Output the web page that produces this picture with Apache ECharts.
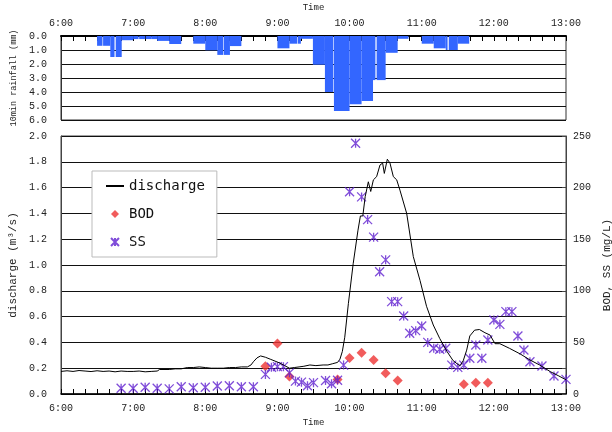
<!DOCTYPE html>
<html>
<head>
<meta charset="utf-8">
<script src="https://cdn.jsdelivr.net/npm/echarts@6/dist/echarts.min.js"></script>
<style>
html,body{margin:0;padding:0;background:#fff;}
#chart{width:612px;height:432px;}
</style>
</head>
<body>
<div id="chart"></div>
<script>
// time is given in minutes after 6:00
const hourLabels = ['6:00','7:00','8:00','9:00','10:00','11:00','12:00','13:00'];

// 10-min rainfall bars: start, end (minutes after 6:00) and depth (mm)
const rainStartMin = [30,35,41,45.5,50.5,60,65,70.5,75.5,80,90,110,120,130,135.5,140.5,180,190,197,199.5,209.5,219.5,227,240,250,259.5,262.5,270,280,300,310,320,322.5,330];
const rainEndMin   = [34.5,41,44.5,50.5,60,64.5,70,75.5,80,90,100,120,130,135,140.5,150,190,196.5,199.5,209.5,219.5,226.5,240,250,259.5,261.5,270,280,289,310,320,321.5,330,339.5];
const rainMm       = [0.7,0.7,1.5,1.5,0.3,0.22,0.22,0.22,0.22,0.35,0.57,0.55,1.02,1.35,1.35,0.72,0.88,0.55,0.55,0.2,2.05,4.0,5.35,4.87,4.65,3.15,3.15,1.2,0.2,0.55,0.88,1.0,1.0,0.55];

// discharge (m3/s)
const dischargeMin = [0,5,10,15,20,25,30,35,40,45,50,55,60,65,70,75,80,82,90,95,100,105,110,115,120,125,130,135,140,145,150,155,158,160,163,166,170,174,178,182,186,190,194,198,202,207,212,218,222,226,230,232,234,236,239,243,247,249,251,253,255.6,257.6,259.8,262.5,264,265.3,267.5,268.9,271.4,273.6,276.4,279.2,281.9,287.5,293,298.6,304,309.6,315,321,326,330,332,334.6,337.4,340,344,348,352.6,356.8,361,365,373,382,390,398,407,414,420];
const dischargeVal = [0.175,0.18,0.175,0.182,0.178,0.174,0.18,0.175,0.178,0.172,0.178,0.175,0.175,0.178,0.172,0.175,0.178,0.19,0.19,0.195,0.195,0.205,0.205,0.21,0.205,0.2,0.2,0.2,0.205,0.205,0.21,0.21,0.225,0.25,0.28,0.295,0.285,0.27,0.255,0.24,0.22,0.2,0.205,0.21,0.215,0.225,0.22,0.225,0.225,0.235,0.245,0.27,0.33,0.44,0.7,1.01,1.27,1.38,1.38,1.53,1.645,1.57,1.66,1.685,1.67,1.775,1.79,1.71,1.82,1.79,1.685,1.66,1.58,1.4,1.065,0.88,0.68,0.535,0.43,0.33,0.26,0.23,0.22,0.26,0.34,0.45,0.495,0.5,0.475,0.457,0.39,0.39,0.354,0.31,0.264,0.225,0.173,0.14,0.11];

// BOD (mg/L)
const bodMin = [170,180,190,230,240,250,260,270,280,335,345,355];
const bodVal = [27,49,17,14,35,40,33,20,13,9.5,11,11];

// SS (mg/L)
const ssMin = [50,60,70,80,90,100,110,120,130,140,150,160,170,175,180,185,190,195,200,205,210,220,225,230,235,240,245,250,255,260,265,270,275,280,285,290,295,300,305,310,315,320,325,330,335,340,345,350,355,360,365,370,375,380,385,390,400,410,420];
const ssVal = [5.5,5.5,6.5,5.5,5,7,6,6.5,7.8,8,7,7,19,26,26.5,26.5,20.5,12.5,11.5,8,11,13,10,13.3,28,196,243,191,169,152,118.5,130,89.5,89.5,75.6,58.8,61.4,65.9,50,44.3,43.3,44.3,28,25.8,28,34.6,47.5,34.6,52.3,71.7,67.5,79.8,79.8,56.2,42.6,31.3,27.1,17.4,14.2];

const numFont = 'Liberation Mono';
const txtColor = '#222';
const diamondPath = 'path://M5,0L10,5L5,10L0,5Z';
const asteriskPath = 'path://M0,0L10,10M10,0L0,10M5,0L5,10';

function timeLabel(v){ return v % 60 === 0 ? hourLabels[v/60] : ''; }

const chart = echarts.init(document.getElementById('chart'), null, {renderer:'canvas'});
chart.setOption({
  animation: false,
  backgroundColor: '#fff',
  grid: [
    {left: 61, right: 46, top: 36, height: 84, show: true, borderColor: '#333', borderWidth: 1, outerBoundsMode: 'none', containLabel: false},
    {left: 61, right: 46, top: 136, bottom: 38, show: true, borderColor: '#444', borderWidth: 1, outerBoundsMode: 'none', containLabel: false}
  ],
  legend: {
    data: [
      {name: 'discharge', itemStyle: {color: 'rgba(0,0,0,0)', borderColor: 'rgba(0,0,0,0)', borderWidth: 0}},
      {name: 'BOD', icon: diamondPath},
      {name: 'SS', icon: asteriskPath}
    ],
    orient: 'vertical',
    left: 92, top: 171,
    padding: [7, 12, 7, 13],
    itemGap: 12,
    itemWidth: 18, itemHeight: 8,
    symbolKeepAspect: true,
    backgroundColor: '#fff',
    borderColor: '#bbb', borderWidth: 1,
    textStyle: {fontFamily: 'DejaVu Sans Mono', fontSize: 14, color: '#111', lineHeight: 16}
  },
  xAxis: [
    {
      type: 'value', gridIndex: 0, position: 'top', min: 0, max: 420, interval: 10,
      name: 'Time', nameLocation: 'middle', nameGap: 24,
      nameTextStyle: {fontFamily: numFont, fontSize: 9, color: txtColor},
      axisLine: {show: true, lineStyle: {color: '#000', width: 2}},
      axisTick: {show: true, inside: true, length: 5, lineStyle: {color: '#000'}},
      axisLabel: {formatter: timeLabel, fontFamily: numFont, fontSize: 10, color: txtColor, margin: 8, showMinLabel: true, showMaxLabel: true},
      splitLine: {show: false}
    },
    {
      type: 'value', gridIndex: 1, position: 'bottom', min: 0, max: 420, interval: 10,
      name: 'Time', nameLocation: 'middle', nameGap: 24,
      nameTextStyle: {fontFamily: numFont, fontSize: 9, color: txtColor},
      axisLine: {show: true, lineStyle: {color: '#000', width: 1.5}},
      axisTick: {show: true, inside: true, length: 5, lineStyle: {color: '#000'}},
      axisLabel: {formatter: timeLabel, fontFamily: numFont, fontSize: 10, color: txtColor, margin: 9, showMinLabel: true, showMaxLabel: true},
      splitLine: {show: false}
    }
  ],
  yAxis: [
    {
      type: 'value', gridIndex: 0, inverse: true, min: 0, max: 6, interval: 1,
      name: '10min rainfall (mm)', nameLocation: 'middle', nameGap: 43, nameRotate: 90,
      nameTextStyle: {fontFamily: numFont, fontSize: 8.5, color: txtColor},
      axisLine: {show: true, lineStyle: {color: '#333'}},
      axisTick: {show: false},
      axisLabel: {formatter: v => v.toFixed(1), fontFamily: numFont, fontSize: 10, color: txtColor, margin: 14},
      splitLine: {show: true, lineStyle: {color: '#111', width: 1}}
    },
    {
      type: 'value', gridIndex: 1, min: 0, max: 2, interval: 0.2,
      name: 'discharge (m³/s)', nameLocation: 'middle', nameGap: 36, nameRotate: 90,
      nameTextStyle: {fontFamily: numFont, fontSize: 11, color: txtColor},
      axisLine: {show: true, lineStyle: {color: '#444'}},
      axisTick: {show: false},
      axisLabel: {formatter: v => v.toFixed(1), fontFamily: numFont, fontSize: 10, color: txtColor, margin: 14},
      splitLine: {show: true, lineStyle: {color: '#111', width: 1}}
    },
    {
      type: 'value', gridIndex: 1, position: 'right', min: 0, max: 250, interval: 25,
      name: 'BOD, SS (mg/L)', nameLocation: 'middle', nameGap: 26, nameRotate: 90,
      nameTextStyle: {fontFamily: numFont, fontSize: 11, color: txtColor},
      axisLine: {show: true, lineStyle: {color: '#444'}},
      axisTick: {show: true, inside: true, length: 4, lineStyle: {color: '#444'}},
      axisLabel: {formatter: v => (v % 50 === 0 ? String(v) : ''), fontFamily: numFont, fontSize: 10, color: txtColor, margin: 7},
      splitLine: {show: false}
    }
  ],
  series: [
    {
      name: 'rainfall', type: 'custom', xAxisIndex: 0, yAxisIndex: 0,
      data: rainStartMin.map((s, i) => [s, rainEndMin[i], rainMm[i]]),
      encode: {x: [0, 1], y: 2},
      itemStyle: {color: '#3366ff'},
      renderItem: function (params, api) {
        const a = api.coord([api.value(0), 0]);
        const b = api.coord([api.value(1), api.value(2)]);
        return {type: 'rect', shape: {x: a[0], y: a[1], width: b[0] - a[0], height: b[1] - a[1]}, style: api.style()};
      }
    },
    {
      name: 'discharge', type: 'line', xAxisIndex: 1, yAxisIndex: 1,
      data: dischargeMin.map((t, i) => [t, dischargeVal[i]]),
      showSymbol: false, symbol: 'none',
      lineStyle: {color: '#000', width: 1},
      itemStyle: {color: '#000'}
    },
    {
      name: 'BOD', type: 'scatter', xAxisIndex: 1, yAxisIndex: 2,
      data: bodMin.map((t, i) => [t, bodVal[i]]),
      symbol: diamondPath, symbolSize: 10, symbolKeepAspect: true,
      itemStyle: {color: '#ee3333'}
    },
    {
      name: 'SS', type: 'scatter', xAxisIndex: 1, yAxisIndex: 2,
      data: ssMin.map((t, i) => [t, ssVal[i]]),
      symbol: asteriskPath, symbolSize: 9, symbolKeepAspect: true,
      itemStyle: {color: 'rgba(0,0,0,0)', borderColor: '#6020d0', borderWidth: 1.3}
    }
  ]
});
</script>
</body>
</html>
